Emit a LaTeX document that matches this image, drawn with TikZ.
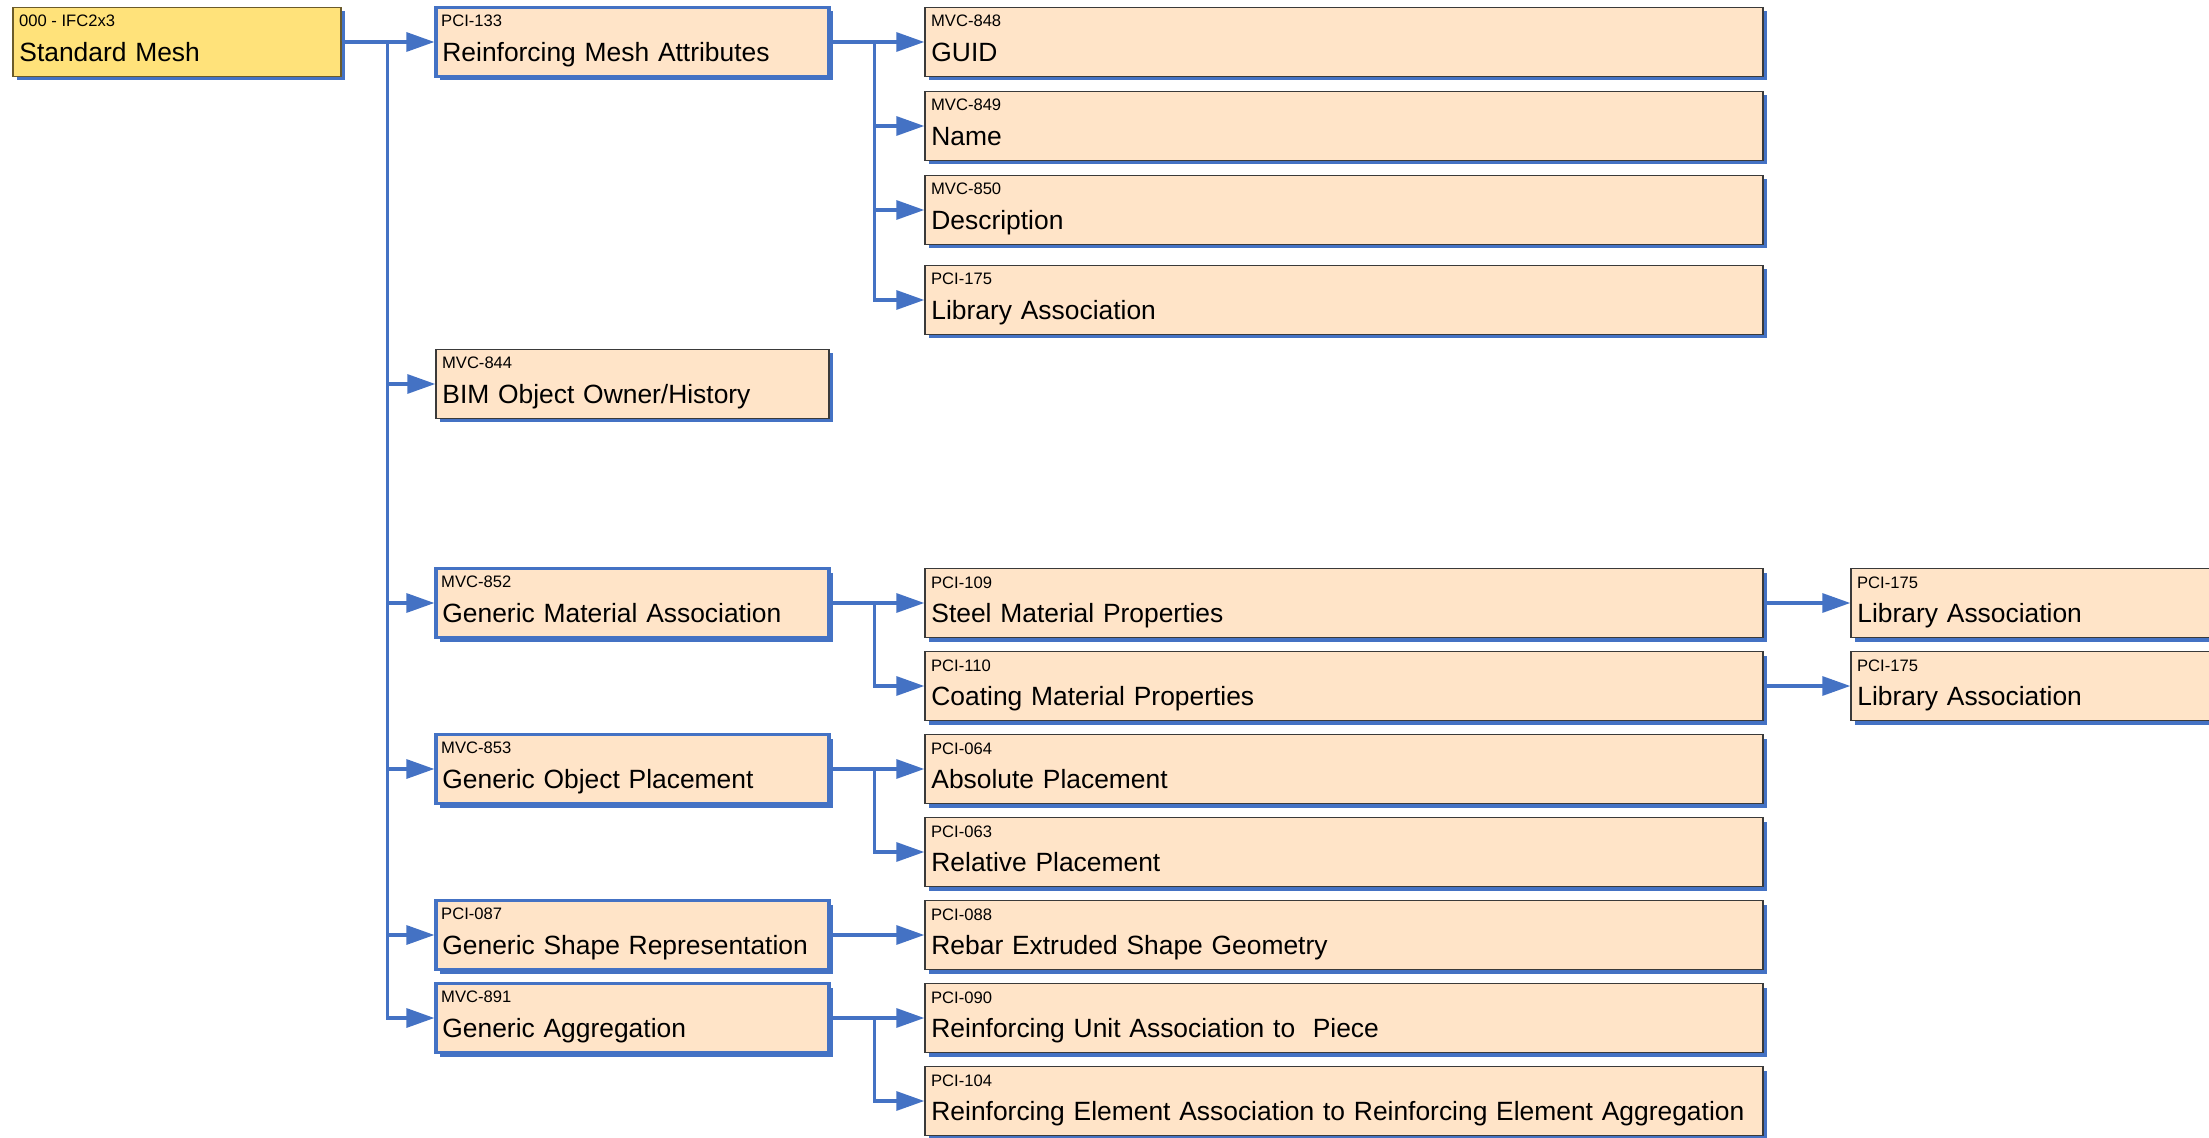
\documentclass[tikz,border=0pt]{standalone}
\usepackage{fontspec}
\setmainfont{Liberation Sans}
\usetikzlibrary{arrows.meta,shadows}
\definecolor{linkblue}{HTML}{4472C4}
\definecolor{itemback}{HTML}{FFE4C8}
\definecolor{rootback}{HTML}{FFE27A}
\definecolor{itemline}{HTML}{3A3A3A}
\definecolor{rootline}{HTML}{6B5B2A}

\tikzset{
  mvdbox/.style={rectangle, draw=itemline, line width=0.7pt, fill=itemback,
    drop shadow={shadow xshift=1.8pt, shadow yshift=-2pt, fill=linkblue, opacity=1},
    inner ysep=0pt, inner xsep=3.2pt, text height=27pt, text depth=7.5pt,
    align=left, font=\fontsize{13.2}{16}\selectfont},
  rootbox/.style={mvdbox, fill=rootback, draw=rootline, text width=157.6pt},
  groupbox/.style={mvdbox, draw=linkblue, line width=1.6pt, text width=190.1pt},
  ownerbox/.style={mvdbox, text width=190.1pt},
  leafbox/.style={mvdbox, text width=412.6pt},
  sidebox/.style={mvdbox, text width=190.1pt},
  idtag/.style={anchor=north west, inner xsep=3.2pt, inner ysep=0pt,
    text height=9.9pt, text depth=0pt, font=\fontsize{8.3}{10}\selectfont},
  arrowlink/.style={draw=linkblue, line width=1.6pt,
    -{Triangle[length=14pt,width=9.5pt]}}
}

\begin{document}
\begin{tikzpicture}[x=0.5pt, y=-0.5pt]
\clip (0,0) rectangle (2209,1138);

% root
\node[rootbox, label={[idtag]north west:000 - IFC2x3}] (stdmesh) at (177,42) {Standard Mesh};

% second column
\node[groupbox, label={[idtag]north west:PCI-133}] (meshattr) at (632.5,42) {Reinforcing Mesh Attributes};
\node[ownerbox, label={[idtag]north west:MVC-844}] (ownerhist) at (632.5,384) {BIM Object Owner/History};
\node[groupbox, label={[idtag]north west:MVC-852}] (matassoc) at (632.5,603) {Generic Material Association};
\node[groupbox, label={[idtag]north west:MVC-853}] (objplace) at (632.5,769) {Generic Object Placement};
\node[groupbox, label={[idtag]north west:PCI-087}] (shaperep) at (632.5,935) {Generic Shape Representation};
\node[groupbox, label={[idtag]north west:MVC-891}] (aggreg) at (632.5,1018) {Generic Aggregation};

% third column
\node[leafbox, label={[idtag]north west:MVC-848}] (guid) at (1344,42) {GUID};
\node[leafbox, label={[idtag]north west:MVC-849}] (name) at (1344,126) {Name};
\node[leafbox, label={[idtag]north west:MVC-850}] (descr) at (1344,210) {Description};
\node[leafbox, label={[idtag]north west:PCI-175}] (libassoc) at (1344,300) {Library Association};
\node[leafbox, label={[idtag]north west:PCI-109}] (steelmat) at (1344,603) {Steel Material Properties};
\node[leafbox, label={[idtag]north west:PCI-110}] (coatmat) at (1344,686) {Coating Material Properties};
\node[leafbox, label={[idtag]north west:PCI-064}] (absplace) at (1344,769) {Absolute Placement};
\node[leafbox, label={[idtag]north west:PCI-063}] (relplace) at (1344,852) {Relative Placement};
\node[leafbox, label={[idtag]north west:PCI-088}] (rebargeom) at (1344,935) {Rebar Extruded Shape Geometry};
\node[leafbox, label={[idtag]north west:PCI-090}] (unitpiece) at (1344,1018) {Reinforcing Unit Association to\ \ Piece};
\node[leafbox, label={[idtag]north west:PCI-104}] (elemaggr) at (1344,1101) {Reinforcing Element Association to Reinforcing Element Aggregation};

% fourth column
\node[sidebox, label={[idtag]north west:PCI-175}] (steellib) at (2047.5,603) {Library Association};
\node[sidebox, label={[idtag]north west:PCI-175}] (coatlib) at (2047.5,686) {Library Association};

% connectors
\foreach \child in {meshattr,ownerhist,matassoc,objplace,shaperep,aggreg}
  \draw[arrowlink] (stdmesh.east) -- ++(46,0) |- (\child.west);
\foreach \child in {guid,name,descr,libassoc}
  \draw[arrowlink] (meshattr.east) -- ++(44,0) |- (\child.west);
\foreach \child in {steelmat,coatmat}
  \draw[arrowlink] (matassoc.east) -- ++(44,0) |- (\child.west);
\foreach \child in {absplace,relplace}
  \draw[arrowlink] (objplace.east) -- ++(44,0) |- (\child.west);
\draw[arrowlink] (shaperep.east) -- (rebargeom.west);
\foreach \child in {unitpiece,elemaggr}
  \draw[arrowlink] (aggreg.east) -- ++(44,0) |- (\child.west);
\draw[arrowlink] (steelmat.east) -- (steellib.west);
\draw[arrowlink] (coatmat.east) -- (coatlib.west);
\end{tikzpicture}
\end{document}
